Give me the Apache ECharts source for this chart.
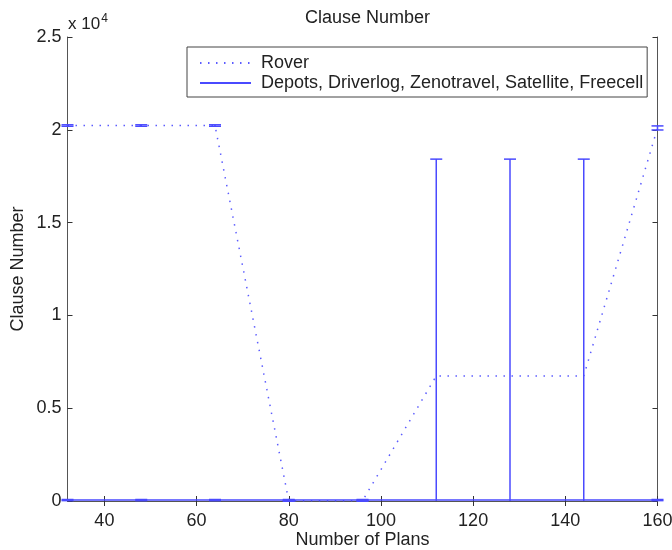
<!DOCTYPE html>
<html>
<head>
<meta charset="utf-8">
<script src="https://cdn.jsdelivr.net/npm/echarts@6/dist/echarts.min.js"></script>
<style>
  html, body { margin: 0; padding: 0; background: #fff; }
  #chart { width: 672px; height: 550px; }
</style>
</head>
<body>
<div id="chart"></div>
<script>
// Number of plans on the x axis
const planCounts = [32, 48, 64, 80, 96, 112, 128, 144, 160];

// Rover domain: mean clause number and error half-width
const roverMean = [20230, 20230, 20230, 10, 10, 6740, 6740, 6740, 20100];
const roverErr  = [40, 40, 40, 20, 20, 0, 0, 0, 110];

// Other domains (Depots, Driverlog, Zenotravel, Satellite, Freecell)
const otherMean = [50, 50, 50, 50, 50, 50, 50, 50, 50];
const otherErr  = [30, 30, 30, 30, 30, 18370, 18370, 18370, 30];

// Axis ticks
const xTicks = [40, 60, 80, 100, 120, 140, 160];
const yTicks = [0, 5000, 10000, 15000, 20000, 25000];

const ROVER_NAME = 'Rover';
const OTHER_NAME = 'Depots, Driverlog, Zenotravel, Satellite, Freecell';
const BLUE = '#4a4aff';
const FONT = '"Liberation Sans", Arial, Helvetica, sans-serif';
const AXIS_GRAY = '#555';

const pairs = (ys) => planCounts.map((x, i) => [x, ys[i]]);
const errRows = (m, e) => planCounts.map((x, i) => [x, m[i], e[i]]);

// Vertical error bar with caps, clipped to the plotting area
function errorBarItem(params, api) {
  const x = api.value(0), m = api.value(1), e = api.value(2);
  if (!(e > 0)) return null;
  const cs = params.coordSys;
  const top = api.coord([x, m + e]);
  const bot = api.coord([x, m - e]);
  const yMin = cs.y, yMax = cs.y + cs.height;
  const clampY = (y) => Math.max(yMin, Math.min(yMax, y));
  const half = 6;
  const style = { stroke: BLUE, lineWidth: 1.5 };
  const children = [{
    type: 'line',
    shape: { x1: top[0], y1: clampY(top[1]), x2: bot[0], y2: clampY(bot[1]) },
    style: style
  }];
  [top[1], bot[1]].forEach((y) => {
    if (y >= yMin - 0.5 && y <= yMax + 0.5) {
      children.push({
        type: 'line',
        shape: { x1: top[0] - half, y1: y, x2: top[0] + half, y2: y },
        style: style
      });
    }
  });
  return { type: 'group', children: children };
}

const chart = echarts.init(document.getElementById('chart'), null, { renderer: 'canvas' });

const axisLine = { show: true, lineStyle: { color: AXIS_GRAY, width: 1 } };
const tickStyle = { color: '#333' };

chart.setOption({
  animation: false,
  backgroundColor: '#fff',
  textStyle: { fontFamily: FONT },
  title: {
    text: 'Clause Number',
    left: 362.5,
    top: 4,
    textAlign: 'center',
    textStyle: { fontFamily: FONT, fontSize: 18, fontWeight: 'normal', color: '#222' }
  },
  grid: {
    left: 67.5, top: 37, width: 590, height: 464,
    containLabel: false,
    outerBoundsMode: 'none'
  },
  legend: {
    data: [ROVER_NAME, OTHER_NAME],
    orient: 'vertical',
    left: 187,
    top: 47,
    padding: [6, 4, 4, 12],
    itemGap: 0,
    itemWidth: 51,
    itemHeight: 20,
    borderColor: '#444',
    borderWidth: 1,
    backgroundColor: '#fff',
    selectedMode: false,
    itemStyle: { color: 'transparent', borderWidth: 0, opacity: 0 },
    textStyle: { fontFamily: FONT, fontSize: 18, color: '#222', lineHeight: 20, padding: [0, 0, 0, 5] }
  },
  xAxis: [{
    type: 'value',
    min: 32, max: 160,
    position: 'bottom',
    name: 'Number of Plans',
    nameLocation: 'middle',
    nameGap: 30,
    nameMoveOverlap: false,
    nameTextStyle: { fontFamily: FONT, fontSize: 18, color: '#222' },
    axisLine: axisLine,
    axisTick: { show: true, inside: true, length: 5, lineStyle: tickStyle, customValues: xTicks },
    splitLine: { show: false },
    axisLabel: {
      fontFamily: FONT, fontSize: 18, color: '#222', margin: 11,
      customValues: xTicks
    }
  }, {
    type: 'value',
    min: 32, max: 160,
    position: 'top',
    axisLine: axisLine,
    axisTick: { show: true, inside: true, length: 5, lineStyle: tickStyle, customValues: xTicks },
    axisLabel: { show: false, customValues: xTicks },
    splitLine: { show: false }
  }],
  yAxis: [{
    type: 'value',
    min: 0, max: 25000,
    position: 'left',
    name: 'Clause Number',
    nameLocation: 'middle',
    nameGap: 40,
    nameMoveOverlap: false,
    nameTextStyle: { fontFamily: FONT, fontSize: 18, color: '#222' },
    axisLine: axisLine,
    axisTick: { show: true, inside: true, length: 5, lineStyle: tickStyle, customValues: yTicks },
    splitLine: { show: false },
    axisLabel: {
      fontFamily: FONT, fontSize: 18, color: '#222', margin: 6,
      customValues: yTicks,
      formatter: (v) => String(v / 10000)
    }
  }, {
    type: 'value',
    min: 0, max: 25000,
    position: 'right',
    axisLine: axisLine,
    axisTick: { show: true, inside: true, length: 5, lineStyle: tickStyle, customValues: yTicks },
    axisLabel: { show: false, customValues: yTicks },
    splitLine: { show: false }
  }],
  graphic: [{
    type: 'text',
    left: 68,
    top: 13,
    style: {
      text: '{b|x 10}{s|4}',
      rich: {
        b: { fontFamily: FONT, fontSize: 17, fill: '#222', verticalAlign: 'bottom', lineHeight: 20 },
        s: { fontFamily: FONT, fontSize: 12, fill: '#222', verticalAlign: 'top', lineHeight: 20, padding: [0, 0, 8, 1] }
      }
    }
  }],
  series: [{
    name: ROVER_NAME,
    type: 'line',
    data: pairs(roverMean),
    symbol: 'none',
    color: BLUE,
    lineStyle: { color: '#5c5cff', width: 1.5, type: [1.5, 6.5] },
    z: 3
  }, {
    name: OTHER_NAME,
    type: 'line',
    data: pairs(otherMean),
    symbol: 'none',
    color: BLUE,
    lineStyle: { color: BLUE, width: 1.5, type: 'solid' },
    z: 3
  }, {
    name: ROVER_NAME,
    type: 'custom',
    data: errRows(roverMean, roverErr),
    renderItem: errorBarItem,
    encode: { x: 0, y: 1 },
    z: 4
  }, {
    name: OTHER_NAME,
    type: 'custom',
    data: errRows(otherMean, otherErr),
    renderItem: errorBarItem,
    encode: { x: 0, y: 1 },
    z: 4
  }]
});
</script>
</body>
</html>
